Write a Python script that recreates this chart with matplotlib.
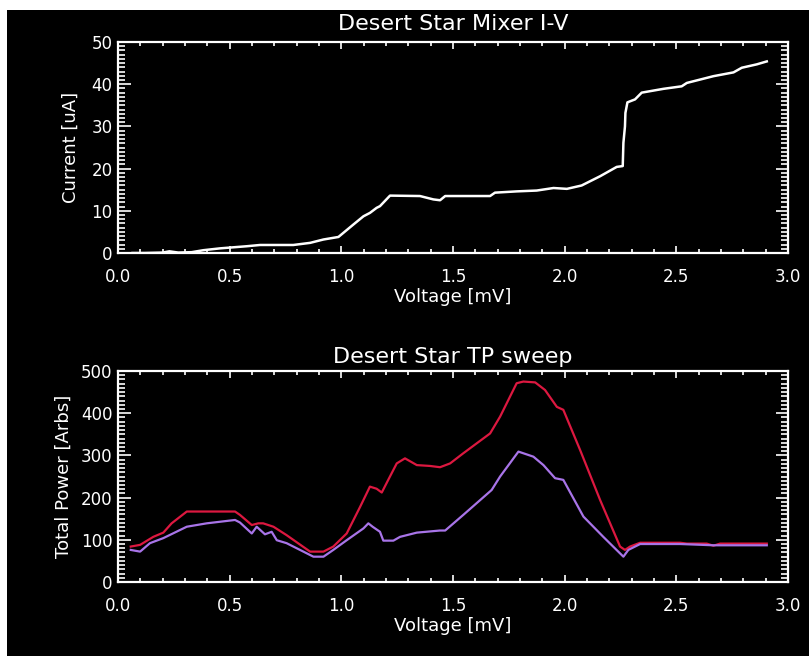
"""Desert Star mixer I-V curve and total-power sweep, IDL-style black plot."""

import matplotlib

matplotlib.use("Agg")
import matplotlib.pyplot as plt
from matplotlib.patches import Rectangle
from matplotlib.ticker import MultipleLocator, FormatStrFormatter

# --- I-V curve (voltage in mV, current in uA) ---
iv_volt = [0.065, 0.12, 0.20, 0.23, 0.27, 0.33, 0.382, 0.457, 0.576, 0.636, 0.785,
           0.86, 0.92, 0.987, 1.054, 1.099, 1.128, 1.158, 1.173, 1.218, 1.352,
           1.412, 1.442, 1.465, 1.666, 1.688, 1.785, 1.875, 1.95, 2.01, 2.076,
           2.159, 2.233, 2.26, 2.263, 2.27, 2.272, 2.281, 2.315, 2.345, 2.442,
           2.524, 2.547, 2.666, 2.756, 2.793, 2.86, 2.905]
iv_curr = [0.0, 0.0, 0.1, 0.4, 0.1, 0.2, 0.66, 1.1, 1.6, 1.9, 1.9,
           2.4, 3.2, 3.8, 6.75, 8.7, 9.5, 10.7, 11.1, 13.6, 13.5,
           12.7, 12.5, 13.5, 13.5, 14.3, 14.6, 14.8, 15.4, 15.2, 16.0,
           18.2, 20.4, 20.6, 26.1, 30.0, 33.2, 35.7, 36.4, 38.0, 38.9,
           39.5, 40.3, 41.9, 42.8, 43.9, 44.7, 45.4]

# --- total power sweeps (voltage in mV, power in arbitrary units) ---
red_volt = [0.057, 0.099, 0.158, 0.203, 0.24, 0.308, 0.524, 0.546, 0.599, 0.628,
            0.65, 0.696, 0.755, 0.86, 0.92, 0.964, 1.024, 1.084, 1.128, 1.158,
            1.181, 1.21, 1.248, 1.285, 1.338, 1.397, 1.442, 1.487, 1.546, 1.666,
            1.711, 1.785, 1.815, 1.868, 1.912, 1.965, 1.994, 2.069, 2.159, 2.248,
            2.27, 2.293, 2.338, 2.517, 2.547, 2.636, 2.666, 2.696, 2.905]
red_power = [84, 88, 107, 117, 139, 167, 167, 159, 135, 139,
             139, 131, 111, 72, 72, 84, 115, 178, 226, 221,
             212, 242, 281, 293, 277, 275, 272, 281, 305, 352,
             392, 471, 475, 473, 455, 415, 408, 313, 194, 84,
             76, 84, 93, 93, 91, 91, 86, 91, 91]

purple_volt = [0.057, 0.099, 0.143, 0.203, 0.308, 0.397, 0.524, 0.546, 0.599, 0.621,
               0.658, 0.688, 0.711, 0.755, 0.875, 0.92, 0.964, 1.024, 1.099, 1.121,
               1.14, 1.173, 1.188, 1.233, 1.263, 1.338, 1.442, 1.465, 1.546, 1.673,
               1.711, 1.793, 1.86, 1.905, 1.957, 1.994, 2.084, 2.173, 2.263, 2.285,
               2.338, 2.517, 2.666, 2.905]
purple_power = [76, 72, 92, 104, 131, 139, 147, 141, 115, 131,
                113, 119, 99, 92, 60, 60, 76, 99, 127, 139,
                131, 119, 98, 98, 107, 117, 122, 122, 159, 218,
                250, 309, 297, 277, 246, 242, 155, 107, 60, 76,
                90, 90, 87, 87]

RED = "#dc1840"
PURPLE = "#a874e8"
FG = "white"

plt.rcParams["font.family"] = ["DejaVu Sans"]

W, H = 809, 656
fig = plt.figure(figsize=(W / 100, H / 100), dpi=100, facecolor="white")
# IDL window: black canvas with a thin white margin on top/left
fig.patches.append(Rectangle((7 / W, 0), 1, (H - 10) / H, transform=fig.transFigure,
                             facecolor="black", edgecolor="none", zorder=-10))

ax_left = 118 / W
ax_w = (788 - 118) / W
ax1 = fig.add_axes([ax_left, 1 - 253 / H, ax_w, (253 - 42) / H])
ax2 = fig.add_axes([ax_left, 1 - 582 / H, ax_w, (582 - 371) / H])


def idl_style(ax, ymajor, yminor):
    ax.set_facecolor("black")
    for sp in ax.spines.values():
        sp.set_color(FG)
        sp.set_linewidth(1.6)
    ax.set_xlim(0, 3.0)
    ax.xaxis.set_major_locator(MultipleLocator(0.5))
    ax.xaxis.set_minor_locator(MultipleLocator(0.1))
    ax.yaxis.set_major_locator(MultipleLocator(ymajor))
    ax.yaxis.set_minor_locator(MultipleLocator(yminor))
    ax.xaxis.set_major_formatter(FormatStrFormatter("%.1f"))
    ax.tick_params(which="both", direction="in", colors=FG, top=True, right=True,
                   labelsize=12, width=1.2)
    ax.tick_params(axis="x", which="major", length=5, pad=11)
    ax.tick_params(axis="x", which="minor", length=3)
    ax.tick_params(axis="y", which="major", length=9, pad=4)
    ax.tick_params(axis="y", which="minor", length=5)


# --- top: mixer I-V ---
idl_style(ax1, 10, 1)
ax1.plot(iv_volt, iv_curr, color=FG, lw=1.8)
ax1.set_ylim(0, 50)
ax1.set_title("Desert Star Mixer I-V", color=FG, fontsize=16, pad=9)
ax1.set_xlabel("Voltage [mV]", color=FG, fontsize=13, labelpad=1)
ax1.set_ylabel("Current [uA]", color=FG, fontsize=13, labelpad=8)

# --- bottom: total power sweep ---
idl_style(ax2, 100, 10)
ax2.plot(red_volt, red_power, color=RED, lw=1.6)
ax2.plot(purple_volt, purple_power, color=PURPLE, lw=1.6)
ax2.set_ylim(0, 500)
ax2.set_title("Desert Star TP sweep", color=FG, fontsize=16, pad=6)
ax2.set_xlabel("Voltage [mV]", color=FG, fontsize=13, labelpad=1)
ax2.set_ylabel("Total Power [Arbs]", color=FG, fontsize=13, labelpad=6)

fig.savefig("out.png", dpi=100, facecolor=fig.get_facecolor())
